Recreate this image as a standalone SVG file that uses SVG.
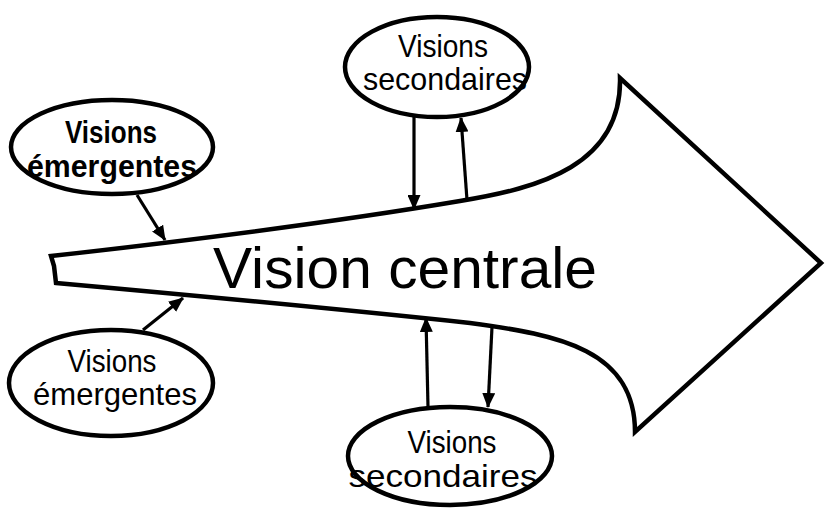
<svg xmlns="http://www.w3.org/2000/svg" width="825" height="511" viewBox="0 0 825 511">
<defs>
<style>
.ol{fill:#fff;stroke:#000;stroke-width:4.5;stroke-linejoin:miter}
.el{fill:#fff;stroke:#000;stroke-width:4.5}
.t{font-family:"Liberation Sans",Arial,sans-serif;font-size:32px;fill:#000;text-anchor:middle}
.b{font-weight:bold}
.c{stroke:#000;stroke-width:3.2;fill:none;marker-end:url(#ah)}
</style>
<marker id="ah" markerUnits="userSpaceOnUse" markerWidth="15" markerHeight="13" refX="14" refY="6.5" orient="auto">
<path d="M0,0 L15,6.5 L0,13 z" fill="#000"/>
</marker>
</defs>
<g id="central-arrow">
<path class="ol" d="M51,256 Q300,228 460,201 C540,188 622,165 620,78 L821,263 L635,432 C635,350 560,335 470,323 Q300,305 56,283 L54,266 Z"/>
<text x="405" y="288" style="font-family:'Liberation Sans',Arial,sans-serif;font-size:58px;text-anchor:middle" textLength="384" lengthAdjust="spacingAndGlyphs">Vision centrale</text>
</g>
<g id="emergent-top">
<ellipse class="el" cx="112" cy="147" rx="101" ry="47"/>
<text class="t b" x="111" y="143" textLength="92" lengthAdjust="spacingAndGlyphs">Visions</text>
<text class="t b" x="112" y="177" textLength="170" lengthAdjust="spacingAndGlyphs">émergentes</text>
</g>
<g id="emergent-bottom">
<ellipse class="el" cx="111" cy="383" rx="102" ry="53"/>
<text class="t" x="112" y="372" textLength="89" lengthAdjust="spacingAndGlyphs">Visions</text>
<text class="t" x="115" y="405" textLength="164" lengthAdjust="spacingAndGlyphs">émergentes</text>
</g>
<g id="secondary-top">
<ellipse class="el" cx="437" cy="67" rx="92" ry="50"/>
<text class="t" x="443" y="57" textLength="90" lengthAdjust="spacingAndGlyphs">Visions</text>
<text class="t" x="445" y="90" textLength="164" lengthAdjust="spacingAndGlyphs">secondaires</text>
</g>
<g id="secondary-bottom">
<ellipse class="el" cx="450" cy="456" rx="102" ry="49"/>
<text class="t" x="452" y="453" textLength="89" lengthAdjust="spacingAndGlyphs">Visions</text>
<text class="t" x="443" y="487" textLength="189" lengthAdjust="spacingAndGlyphs">secondaires</text>
</g>
<g id="connectors">
<line class="c" x1="137" y1="195" x2="165" y2="240"/>
<line class="c" x1="143" y1="330" x2="183" y2="298"/>
<line class="c" x1="414" y1="117" x2="414" y2="209"/>
<line class="c" x1="467" y1="200" x2="461" y2="118"/>
<line class="c" x1="428" y1="407" x2="426" y2="318"/>
<line class="c" x1="492" y1="327" x2="488" y2="407"/>
</g>
</svg>
